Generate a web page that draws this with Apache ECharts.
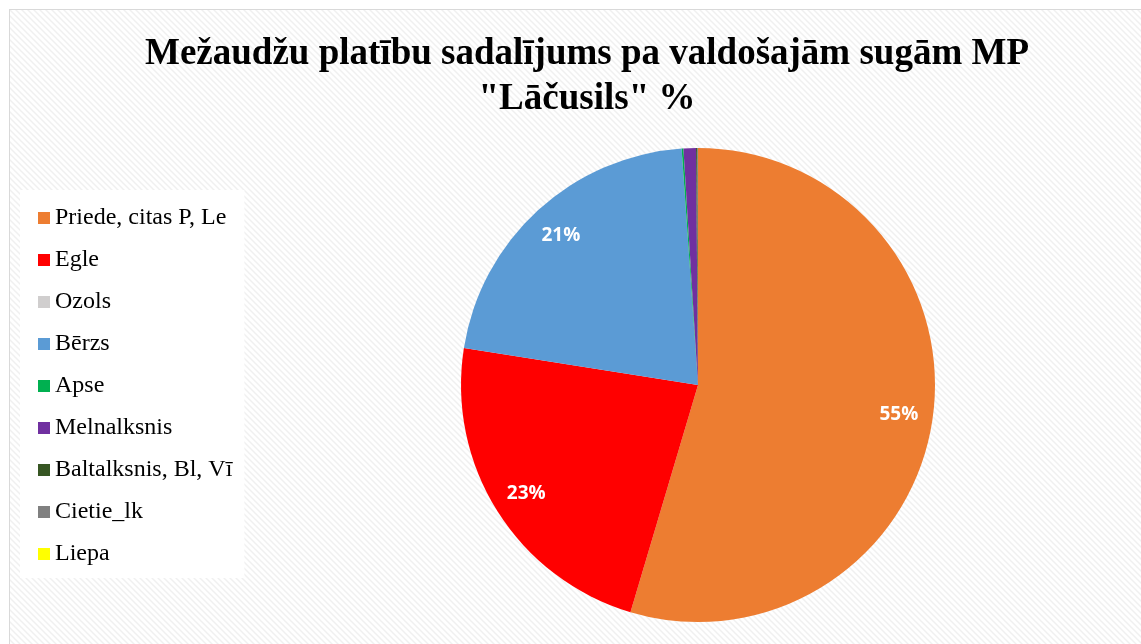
<!DOCTYPE html>
<html>
<head>
<meta charset="utf-8">
<script src="https://cdn.jsdelivr.net/npm/echarts@6/dist/echarts.min.js"></script>
<style>
  html, body { margin: 0; padding: 0; background: #fff; overflow: hidden; }
  #wrap { position: absolute; left: 9px; top: 9px; width: 1145px; height: 645px; border: 1px solid #d9d9d9; }
  #chart { width: 1145px; height: 645px; }
</style>
</head>
<body>
<div id="wrap"><div id="chart"></div></div>
<script>
// species and their share (%)
var species = ['Priede, citas P, Le', 'Egle', 'Ozols', 'Bērzs', 'Apse', 'Melnalksnis', 'Baltalksnis, Bl, Vī', 'Cietie_lk', 'Liepa'];
var shares = [54.6, 22.9, 0, 21.4, 0.12, 0.85, 0.1, 0.03, 0];
var colors = ['#ED7D31', '#FF0000', '#D0CECE', '#5B9BD5', '#00B050', '#7030A0', '#375623', '#808080', '#FFFF00'];

window.onload = init;
function init() {
    // faint diagonal hatch like the excel chart area
    var pat = document.createElement('canvas');
    pat.width = 6; pat.height = 6;
    var c = pat.getContext('2d');
    c.fillStyle = '#ffffff';
    c.fillRect(0, 0, 6, 6);
    c.strokeStyle = '#f0f0f0';
    c.lineWidth = 1.5;
    c.beginPath();
    c.moveTo(-1, -1); c.lineTo(7, 7);
    c.moveTo(-4, 2); c.lineTo(4, 10);
    c.moveTo(2, -4); c.lineTo(10, 4);
    c.stroke();

    var pieData = species.map(function (n, i) {
        return { name: n, value: shares[i], itemStyle: { color: colors[i] } };
    });

    var chart = echarts.init(document.getElementById('chart'));
    var option = {
        backgroundColor: { image: pat, repeat: 'repeat' },
        animation: false,
        title: {
            text: 'Mežaudžu platību sadalījums pa valdošajām sugām MP\n"Lāčusils" %',
            left: 572,
            textAlign: 'center',
            top: 17,
            textStyle: {
                fontFamily: 'Liberation Serif',
                fontWeight: 'bold',
                fontSize: 37,
                lineHeight: 45,
                color: '#000'
            }
        },
        legend: {
            orient: 'vertical',
            left: 10,
            top: 180,
            padding: [16, 12, 12, 18],
            backgroundColor: '#ffffff',
            icon: 'rect',
            itemWidth: 12,
            itemHeight: 12,
            itemGap: 18,
            selectedMode: false,
            data: species,
            textStyle: { fontFamily: 'Liberation Serif', fontSize: 24, lineHeight: 24, color: '#000' }
        },
        series: [
            {
                type: 'pie',
                center: [688, 375],
                radius: 237,
                startAngle: 90,
                clockwise: true,
                silent: true,
                label: { show: false },
                labelLine: { show: false },
                itemStyle: { borderWidth: 0 },
                data: pieData
            },
            {
                // transparent ring only used to place the percent labels
                type: 'pie',
                center: [688, 375],
                radius: [163, 237],
                startAngle: 90,
                clockwise: true,
                silent: true,
                itemStyle: { color: 'rgba(0,0,0,0)', borderWidth: 0 },
                labelLine: { show: false },
                label: {
                    position: 'inside',
                    fontFamily: 'Open Sans',
                    fontWeight: 'bold',
                    fontSize: 19,
                    color: '#fff',
                    formatter: function (p) { return p.percent >= 5 ? Math.round(p.percent) + '%' : ''; }
                },
                data: species.map(function (n, i) { return { name: n, value: shares[i] }; })
            }
        ]
    };
    chart.setOption(option);
}
</script>
</body>
</html>
